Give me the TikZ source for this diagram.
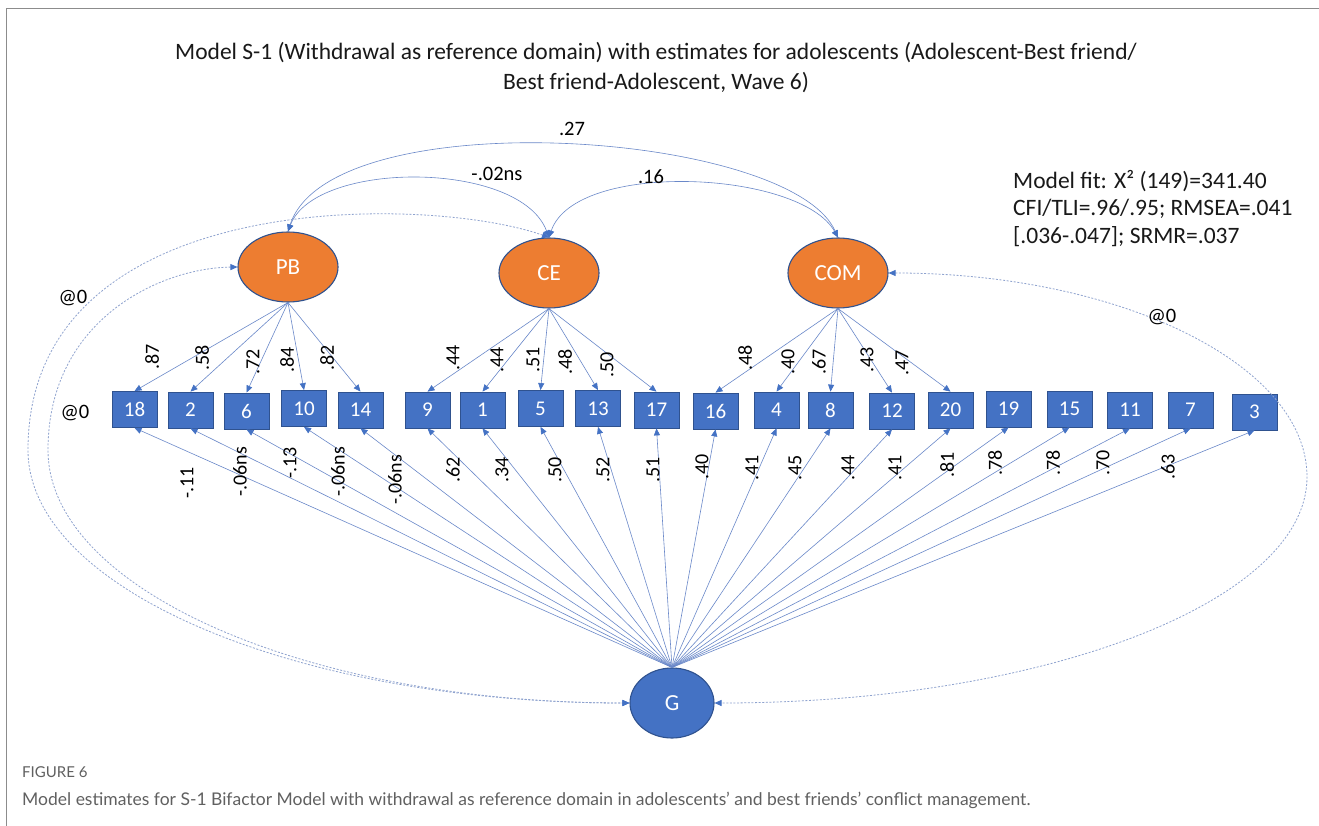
\documentclass[tikz,border=0pt]{standalone}
\usepackage{fontspec}
\setmainfont{Carlito}
\newfontfamily\capfont{Lato}
\usetikzlibrary{arrows.meta,shapes.geometric}

\definecolor{itemblue}{HTML}{4472C4}
\definecolor{edgeblue}{HTML}{2F528F}
\definecolor{factororange}{HTML}{ED7D31}
\definecolor{pathblue}{HTML}{6A88C9}
\definecolor{dotblue}{HTML}{8FA3CF}
\definecolor{framegray}{HTML}{8C8C8C}
\definecolor{capgray}{HTML}{606060}

\begin{document}
\begin{tikzpicture}[x=1pt,y=-1pt,
  latent/.style={ellipse, draw=edgeblue, line width=1.1pt, fill=factororange, text=white,
    minimum width=100pt, minimum height=70pt, inner sep=0pt, font=\fontsize{23}{26}\selectfont},
  general/.style={latent, fill=itemblue, minimum width=84pt, minimum height=70pt},
  item/.style={rectangle, draw=edgeblue, line width=0.8pt, fill=itemblue, text=white,
    minimum width=45pt, minimum height=36pt, inner sep=0pt, font=\fontsize{21}{24}\selectfont},
  load/.style={draw=pathblue, line width=0.6pt, -{Triangle[length=7pt,width=6pt,color=itemblue]}},
  cov/.style={draw=pathblue, line width=0.6pt,
    {Triangle[length=7pt,width=6pt,color=itemblue]}-{Triangle[length=7pt,width=6pt,color=itemblue]}},
  ortho/.style={draw=dotblue, line width=0.8pt, dash pattern=on 2pt off 1.6pt,
    {Triangle[length=7pt,width=6pt,color=itemblue]}-{Triangle[length=7pt,width=6pt,color=itemblue]}},
  coef/.style={rotate=90, inner sep=0pt, font=\fontsize{20}{22}\selectfont},
  lbl/.style={inner sep=0pt, font=\fontsize{20.5}{23}\selectfont},
  heading/.style={inner sep=0pt, font=\fontsize{23.5}{28}\selectfont, text=black!90},
]
\fill[white] (0,0) rectangle (1319,826);
\useasboundingbox (0,0) rectangle (1319,826);

% panel frame
\draw[framegray, line width=1.3pt] (6.5,826) -- (6.5,8.5) -- (1319,8.5);

% heading
\node[heading] (title1) at (656,53) {Model S-1 (Withdrawal as reference domain) with estimates for adolescents (Adolescent-Best friend/};
\node[heading] (title2) at (656,83) {Best friend-Adolescent, Wave 6)};

% fit statistics
\node[heading, anchor=west] (fit1) at (1013,181) {Model fit: X² (149)=341.40};
\node[heading, anchor=west] (fit2) at (1013,209) {CFI/TLI=.96/.95; RMSEA=.041};
\node[heading, anchor=west] (fit3) at (1013,237) {{[}.036-.047{]}; SRMR=.037};

% latent factors
\node[latent] (PB) at (288,267) {PB};
\node[latent] (CE) at (549,273) {CE};
\node[latent] (COM) at (838,273) {COM};
\node[general] (G) at (672,703) {G};

% observed items
\foreach \n/\x/\y in {18/134.5/409.5, 2/190.5/410, 6/246.5/411, 10/304/408.5, 14/360.5/410,
  9/427.5/410, 1/482.5/410, 5/540.5/408.5, 13/598/408.5, 17/656.5/410,
  16/715.5/411, 4/776.5/410, 8/830.5/410, 12/892/411, 20/950.5/410,
  19/1008.5/409, 15/1069.5/409, 11/1130/410, 7/1190.5/410, 3/1254.5/412}
  \node[item] (i\n) at (\x,\y) {\n};

% specific factor loadings
\foreach \n in {18,2,6,10,14} \draw[load] (PB.south) -- (i\n.north);
\foreach \n in {9,1,5,13,17} \draw[load] (CE.south) -- (i\n.north);
\foreach \n in {16,4,8,12,20} \draw[load] (COM.south) -- (i\n.north);

% general factor loadings
\foreach \n in {18,2,6,10,14,9,1,5,13,17,16,4,8,12,20,19,15,11,7,3}
  \draw[load] (G.north) -- (i\n.south);

% correlations among specific factors
\draw[cov] (PB.north) .. controls (330,100) and (790,130) .. (COM.north);
\draw[cov] (PB.north) .. controls (315,160) and (520,160) .. (CE.north);
\draw[cov] (CE.north) .. controls (575,160) and (800,170) .. (COM.north);

% correlations fixed at zero with the general factor
\draw[ortho] (PB.west) .. controls (160,268) and (48,320) .. (48,450)
  .. controls (48,590) and (309,703) .. (G.west);
\draw[ortho] (CE.north) .. controls (430,195) and (28,185) .. (28,450)
  .. controls (28,590) and (298,703) .. (G.west);
\draw[ortho] (COM.east) .. controls (1119,273) and (1307,364) .. (1307,477)
  .. controls (1307,602) and (1042,703) .. (G.east);

% correlation labels
\node[lbl] (c27) at (572,129) {.27};
\node[lbl] (c02) at (497,174) {-.02ns};
\node[lbl] (c16) at (651,177) {.16};
\node[lbl] (z1) at (73,298) {@0};
\node[lbl] (z2) at (75,413) {@0};
\node[lbl] (z3) at (1162,317) {@0};

% specific loading estimates
\foreach \n/\x/\y/\v in {18/152/357/.87, 2/202/358/.58, 6/253/362/.72, 10/287/360/.84, 14/327/358/.82,
  9/453/358/.44, 1/497/360/.44, 5/533/360/.51, 13/565/362/.48, 17/607/365/.50,
  16/745/358/.48, 4/788/362/.40, 8/819/362/.67, 12/867/360/.43, 20/902/363/.47}
  \node[coef] (s\n) at (\x,\y) {\v};

% general loading estimates
\foreach \n/\x/\y/\v in {18/187/483/-.11, 2/240/472/-.06ns, 6/290/463/-.13, 10/338/472/-.06ns, 14/395/480/-.06ns,
  9/453/470/.62, 1/502/470/.34, 5/555/470/.50, 13/603/470/.52, 17/653/470/.51,
  16/702/467/.40, 4/752/468/.41, 8/795/468/.45, 12/848/468/.44, 20/895/468/.41,
  19/947/465/.81, 15/995/463/.78, 11/1053/463/.78, 7/1103/463/.70, 3/1168/467/.63}
  \node[coef] (g\n) at (\x,\y) {\v};

% caption
\node[anchor=west, inner sep=0pt, text=capgray, font=\capfont\fontsize{15}{18}\selectfont] (figno) at (22,772) {FIGURE 6};
\node[anchor=west, inner sep=0pt, text=capgray, font=\capfont\fontsize{17.5}{20}\selectfont] (caption) at (22,800)
  {Model estimates for S-1 Bifactor Model with withdrawal as reference domain in adolescents’ and best friends’ conflict management.};
\end{tikzpicture}
\end{document}
